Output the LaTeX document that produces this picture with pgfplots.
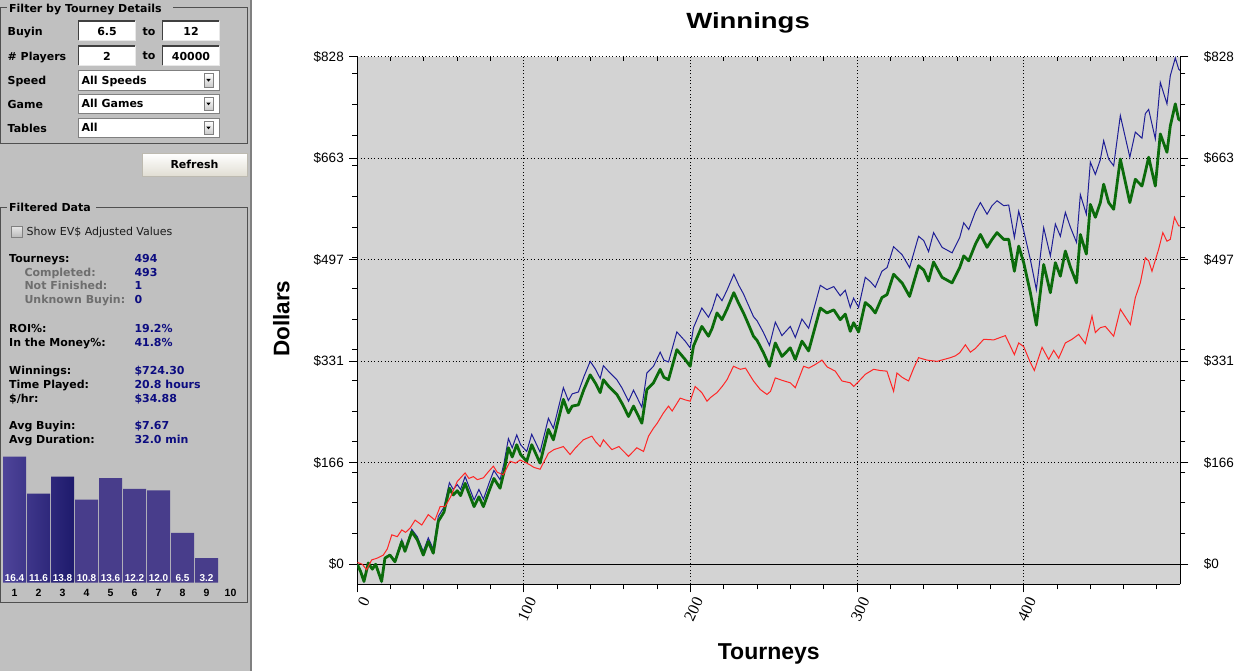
\documentclass[border=0pt]{standalone}
\usepackage{pgfplots}
\pgfplotsset{compat=1.18}
\usepackage{pgfplotstable}
\usepackage{fontspec}
\setmainfont{Liberation Sans}
\newfontfamily\gui{DejaVu Sans}
\newfontfamily\widesans[FakeStretch=1.25]{Liberation Sans}
\newfontfamily\serifticks{Liberation Serif}

\newcommand\guib{\gui\bfseries\fontsize{11}{13}\selectfont}
\newcommand\guir{\gui\fontsize{11}{13}\selectfont}

\definecolor{panelgray}{HTML}{C0C0C0}
\definecolor{plotbg}{HTML}{D3D3D3}
\definecolor{framegray}{HTML}{505050}
\definecolor{boxdark}{HTML}{404040}
\definecolor{boxlight}{HTML}{E8E8E8}
\definecolor{cbborder}{HTML}{808080}
\definecolor{btngray}{HTML}{C8C8C8}
\definecolor{btnbottom}{HTML}{E0DDD2}
\definecolor{btnborder}{HTML}{BDBAB0}
\definecolor{chktop}{HTML}{E6E6E6}
\definecolor{chkbottom}{HTML}{B8B8B8}
\definecolor{chktext}{HTML}{1A1A1A}
\definecolor{navytext}{HTML}{0C0C80}
\definecolor{subgray}{HTML}{6E6E6E}
\definecolor{wblue}{HTML}{1E1E96}
\definecolor{wgreen}{HTML}{0B6B0B}
\definecolor{wred}{HTML}{FF2626}
\definecolor{barflat}{HTML}{483D8B}
\definecolor{barlight}{HTML}{4E4499}
\definecolor{bardark}{HTML}{1E1A6C}

% tourney, winnings (green), winnings incl. other (blue)
\pgfplotstableread{
t g b
0 0 0
2 -12 -12
4 -28 -28
6.6 2 2
9 -8 -8
11 0 0
14.6 -28 -28
16.6 10 11
19.6 15 16
22.6 4 6
26.7 37 40
28.6 21 24
32.7 53 57
36 40 45
39.6 15 21
42.6 37 43
45.6 18 25
48.6 70 78
52 85 93
55.3 124 133
57.6 113 122
60 120 130
62 112 122
64.7 132 143
70.1 94 105
73 110 122
75.7 94 106
79.3 121 134
82 140 153
85.7 124 138
88 150 164
90.7 190 205
93 175 190
95.7 195 211
98 179 195
101.7 168 184
104.7 195 212
109.7 165 183
114.7 220 238
117.7 203 222
123.7 269 288
126.7 247 267
129 258 278
132.7 260 281
136 285 306
139.8 309 331
143 295 318
145.8 280 303
147.7 301 324
151 290 314
155.8 277 301
159 262 287
162.8 241 266
165.8 258 284
170.8 230 256
173.8 285 312
177.8 296 323
181.8 318 346
184 305 333
186.8 301 330
191.8 350 379
196.8 334 364
199.8 323 353
201.8 356 386
206.8 388 418
210.8 372 403
213 385 416
215.9 410 441
218.9 399 430
221.9 416 447
226 443 473
229 425 455
231.8 410 441
233.9 397 428
237.8 372 404
240 365 397
243.8 345 378
247.4 323 357
250.9 361 395
254.9 339 373
259.9 353 388
262.9 334 370
266.9 364 400
270.9 348 385
274.9 388 425
277.9 418 455
281.9 410 448
286 415 453
289.9 399 438
292.9 408 447
295.9 380 419
297.9 394 434
300.9 379 419
304.9 427 468
308 420 461
310.9 410 452
314.9 435 478
318 440 484
321.9 473 518
327 459 505
331.5 437 484
336.9 487 535
340 480 528
342.9 462 510
345.9 493 541
351 468 517
357 459 508
361.6 484 533
364 503 557
367 495 546
371 522 575
374 538 590
378 517 571
381 530 585
384 541 593
388 530 585
391 530 586
394.4 478 533
397 519 576
400 492 544
404 443 497
407.6 390 448
412 489 549
416 443 503
419 492 555
422 470 535
425 511 574
428 485 550
431.7 459 525
434 538 603
437.6 506 571
440 587 656
443 566 636
446 590 660
448 620 691
451 590 661
454 579 650
458 661 732
463.7 590 664
467 628 705
471 617 695
473 640 735
475 664 742
479 617 694
482 702 786
486 672 751
488 715 797
491 751 826
493 726 808
494 724 805
}\greenblue

\pgfplotstableread{
t r
0 3
3 0
5.6 -9
8.6 7
12 10
15.6 15
18 25
20.7 48
24 45
26.7 56
29 52
31.7 59
34.7 72
38.7 64
42.6 81
46.6 72
49.7 94
52.7 94
56 110
60 135
64.7 149
67 140
69.7 143
72 138
75.7 141
78.7 151
81.7 160
84 150
87.7 146
91.7 168
95 165
97.7 170
101 166
103.7 162
106 158
109.7 155
114.7 181
118 187
123.7 192
127.7 179
131 190
135.7 203
140.8 209
143 200
145.8 192
147.7 203
152.8 187
157 192
162.8 176
167.8 190
171.8 184
174.8 209
177.8 222
180 230
183.8 247
186.8 258
189 250
193.8 271
197 268
199.8 266
202.8 290
206.8 280
209.9 266
212 272
215.9 280
219 290
221.9 301
225.8 323
229.9 318
233 320
237.8 299
241.9 285
245.9 277
248 282
250.9 304
255 300
259.9 296
262.9 288
267.9 323
271 320
275 326
278.9 333
282 322
286.9 315
290.9 299
295.9 296
298 290
301.9 301
305 310
309.9 318
314 316
317.9 315
321.9 282
323.9 312
327 305
330.9 299
334 320
336.9 337
342 333
348 331
352 334
356 337
359 340
361.6 345
365 358
368 346
371 352
376 367
382 366
389 373
394.4 342
397 361
400 355
404 329
406.4 316
411 354
415 334
418 349
421 336
425 361
429 367
433 375
437 360
441 405
443 378
446 386
449 388
454 372
458 416
464 391
467 435
470 459
473 500
475 495
477 478
481 514
483.5 541
486 527
488 530
490.5 566
493 552
494 552
}\redtab

\newcommand\combo[2]{%
  \filldraw[fill=white,draw=cbborder,line width=1pt] (78.5,#1) rectangle (219.5,#1+19.5);
  \filldraw[top color=white,bottom color=btngray,draw=cbborder,line width=0.8pt] (204,#1+3) rectangle (213,#1+16.5);
  \fill[black] (206.3,#1+8.3) -- (210.7,#1+8.3) -- (208.5,#1+11) -- cycle;
  \node[anchor=base west,inner sep=0pt,font=\guib] at (81.5,#1+13.5) {#2};}

\newcommand\tbox[3]{% left x, top y, text
  \fill[white] (#1,#2) rectangle (#1+56.5,#2+19.5);
  \draw[boxdark,line width=1.5pt] (#1,#2+19.5) -- (#1,#2) -- (#1+56.5,#2);
  \draw[boxlight,line width=1pt] (#1+56.5,#2) -- (#1+56.5,#2+19.5) -- (#1,#2+19.5);
  \node[anchor=base,inner sep=0pt,font=\guib] at (#1+28.5,#2+14.5) {#3};}

\newcommand\stat[4]{% baseline, label, value, label colour
  \node[anchor=base west,inner sep=0pt,font=\guib,text=#4] at (9,#1) {#2};
  \node[anchor=base west,inner sep=0pt,font=\guib,text=navytext] at (134.3,#1) {#3};}

\begin{document}
\begin{tikzpicture}
\path[use as bounding box] (0,0) rectangle (1239pt,671pt);

% left panel, drawn in screen pixels (y downwards)
\begin{scope}[x=1pt,y=-1pt,shift={(0pt,671pt)}]
  \fill[panelgray] (0,0) rectangle (250,671);
  \fill[white] (251.5,0) rectangle (1239,671);
  \draw[cbborder,line width=1.5pt] (250.75,0) -- (250.75,671);

  % Filter by Tourney Details
  \draw[framegray,line width=1pt] (7,7.5) -- (0.5,7.5) -- (0.5,143.5) -- (247,143.5) -- (247,7.5) -- (173,7.5);
  \node[anchor=base west,inner sep=0pt,font=\guib] at (9,12.3) {Filter by Tourney Details};
  \node[anchor=base west,inner sep=0pt,font=\guib] at (7.5,36) {Buyin};
  \node[anchor=base west,inner sep=0pt,font=\guib] at (7.5,60.3) {\# Players};
  \node[anchor=base west,inner sep=0pt,font=\guib] at (7.5,84.3) {Speed};
  \node[anchor=base west,inner sep=0pt,font=\guib] at (7.5,108.7) {Game};
  \node[anchor=base west,inner sep=0pt,font=\guib] at (7.5,133) {Tables};
  \tbox{78.5}{21}{6.5}
  \tbox{162.5}{21}{12}
  \tbox{78.5}{46}{2}
  \tbox{162.5}{46}{40000}
  \node[anchor=base,inner sep=0pt,font=\guib] at (149,35.5) {to};
  \node[anchor=base,inner sep=0pt,font=\guib] at (149,60) {to};
  \combo{70.7}{All Speeds}
  \combo{94.3}{All Games}
  \combo{118.3}{All}

  % Refresh button
  \shade[top color=white,bottom color=btnbottom] (142.3,153.3) rectangle (247.3,176.7);
  \draw[btnborder,line width=0.8pt] (142.3,153.3) rectangle (247.3,176.7);
  \node[anchor=base,inner sep=0pt,font=\guib] at (194.5,169) {Refresh};

  % Filtered Data
  \draw[framegray,line width=1pt] (7,207.5) -- (0.5,207.5) -- (0.5,602.5) -- (247,602.5) -- (247,207.5) -- (96,207.5);
  \node[anchor=base west,inner sep=0pt,font=\guib] at (9,211.7) {Filtered Data};
  \filldraw[top color=chktop,bottom color=chkbottom,draw=cbborder,line width=1pt] (11,226.7) rectangle (22,237.7);
  \node[anchor=base west,inner sep=0pt,font=\guir,text=chktext] at (26.5,236) {Show EV\$ Adjusted Values};

  \stat{262.3}{Tourneys:}{494}{black}
  \node[anchor=base west,inner sep=0pt,font=\guib,text=subgray] at (24.3,276.2) {Completed:};
  \node[anchor=base west,inner sep=0pt,font=\guib,text=navytext] at (134.3,276.2) {493};
  \node[anchor=base west,inner sep=0pt,font=\guib,text=subgray] at (24.3,290) {Not Finished:};
  \node[anchor=base west,inner sep=0pt,font=\guib,text=navytext] at (134.3,290) {1};
  \node[anchor=base west,inner sep=0pt,font=\guib,text=subgray] at (24.3,303.8) {Unknown Buyin:};
  \node[anchor=base west,inner sep=0pt,font=\guib,text=navytext] at (134.3,303.8) {0};
  \stat{332.3}{ROI\%:}{19.2\%}{black}
  \stat{346.3}{In the Money\%:}{41.8\%}{black}
  \stat{374.2}{Winnings:}{\$724.30}{black}
  \stat{388.2}{Time Played:}{20.8 hours}{black}
  \stat{402.2}{\$/hr:}{\$34.88}{black}
  \stat{430}{Avg Buyin:}{\$7.67}{black}
  \stat{444}{Avg Duration:}{32.0 min}{black}
\end{scope}

% finishing-position histogram
\begin{axis}[
    at={(2.5pt,88.3pt)}, anchor=south west,
    width=240pt, height=126pt, scale only axis,
    xmin=0.5, xmax=10.5, ymin=0, ymax=16.4,
    axis line style={draw=none},
    ytick=\empty,
    xtick={1,...,10}, xticklabels={1,2,3,4,5,6,7,8,9,10},
    major tick length=0pt,
    xticklabel style={font=\bfseries\fontsize{10.5}{12}\selectfont, inner sep=0pt, yshift=-6pt},
    clip=false
  ]
  \addplot[ybar, bar width=23pt, bar shift=0pt, draw=none, left color=barlight, right color=bardark]
    coordinates {(1,16.4) (2,11.6) (3,13.8)};
  \addplot[ybar, bar width=23pt, bar shift=0pt, draw=none, fill=barflat]
    coordinates {(4,10.8) (5,13.6) (6,12.2) (7,12.0) (8,6.5) (9,3.2)};
  \addplot[draw=none, mark=none, nodes near coords, point meta=explicit symbolic,
    every node near coord/.append style={font=\bfseries\fontsize{10}{12}\selectfont, text=white, anchor=south, inner sep=1pt}]
    coordinates {(1,0) [16.4] (2,0) [11.6] (3,0) [13.8] (4,0) [10.8] (5,0) [13.6]
                 (6,0) [12.2] (7,0) [12.0] (8,0) [6.5] (9,0) [3.2]};
\end{axis}

% Winnings chart
\begin{axis}[
    at={(357.3pt,86.7pt)}, anchor=south west,
    width=823pt, height=527.6pt, scale only axis,
    xmin=0, xmax=494, ymin=-32.7, ymax=828,
    enlargelimits=false,
    axis x line*=bottom, axis y line*=left,
    axis line style={black, line width=1pt, -},
    axis background/.style={fill=plotbg},
    xtick={0,100,200,300,400}, xticklabels={0,100,200,300,400},
    minor xtick={20,40,...,480},
    ytick={165.6,331.2,496.8,662.4,828},
    yticklabels={\$166,\$331,\$497,\$663,\$828},
    extra y ticks={0}, extra y tick labels={\$0},
    extra y tick style={grid=major, grid style={solid, black, line width=1pt}},
    minor ytick={50,100,...,800},
    tick align=outside,
    major tick length=8pt, minor tick length=5pt,
    tick style={black, line width=1pt},
    grid=major,
    grid style={black, line width=0.9pt, dash pattern=on 1pt off 2.4pt},
    xticklabel style={font=\serifticks\fontsize{16}{18}\selectfont, rotate=65, anchor=east, inner sep=1pt, xshift=-1pt, yshift=-10pt},
    yticklabel style={font=\fontsize{13.5}{15}\selectfont, xshift=-2pt},
    xlabel={Tourneys}, ylabel={Dollars},
    every axis x label/.style={at={(rel axis cs:0.5,-0.132)}, anchor=center,
      font=\bfseries\fontsize{23}{26}\selectfont},
    every axis y label/.style={at={(rel axis cs:-0.0923,0.5034)}, anchor=center, rotate=90,
      font=\bfseries\fontsize{22.5}{26}\selectfont}
  ]
  \addplot[wblue, line width=1pt] table[x=t, y=b] {\greenblue};
  \addplot[wgreen, line width=2.8pt, line join=round] table[x=t, y=g] {\greenblue};
  \addplot[wred, line width=1pt] table[x=t, y=r] {\redtab};
\end{axis}

% right-hand axis with its own labels
\begin{axis}[
    at={(357.3pt,86.7pt)}, anchor=south west,
    width=823pt, height=527.6pt, scale only axis,
    xmin=0, xmax=494, ymin=-32.7, ymax=828,
    enlargelimits=false,
    axis x line=none, axis y line*=right,
    xtick=\empty,
    axis line style={black, line width=1pt, -},
    ytick={165.6,331.2,496.8,662.4,828},
    yticklabels={\$166,\$331,\$497,\$663,\$828},
    extra y ticks={0}, extra y tick labels={\$0},
    minor ytick={50,100,...,800},
    tick align=outside,
    major tick length=8pt, minor tick length=5pt,
    tick style={black, line width=1pt},
    yticklabel style={font=\fontsize{13.5}{15}\selectfont, xshift=12pt}
  ]
  \addplot[draw=none, mark=none] coordinates {(0,0) (494,0)};
\end{axis}

% dotted top edge with short inward ticks
\begin{axis}[
    at={(357.3pt,86.7pt)}, anchor=south west,
    width=823pt, height=527.6pt, scale only axis,
    xmin=0, xmax=494, ymin=-32.7, ymax=828,
    enlargelimits=false,
    axis y line=none, axis x line*=top,
    ytick=\empty,
    x axis line style={black, line width=0.9pt, dash pattern=on 1pt off 2.4pt, -},
    xtick={20,40,60,80,120,140,160,180,220,240,260,280,320,340,360,380,420,440,460,480},
    xticklabels={},
    tick align=inside, major tick length=4pt,
    tick style={solid, black, line width=1pt}
  ]
  \addplot[draw=none, mark=none] coordinates {(0,0) (494,0)};
\end{axis}

\node[font=\widesans\bfseries\fontsize{22}{26}\selectfont] at (748pt,648.1pt) {Winnings};
\end{tikzpicture}
\end{document}
